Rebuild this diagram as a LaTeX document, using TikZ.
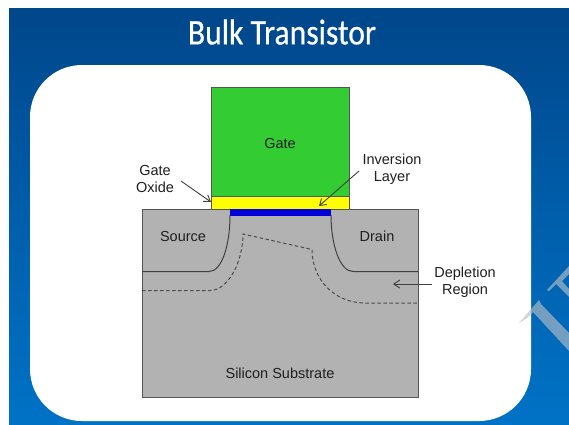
\documentclass[tikz,border=0pt]{standalone}
\usepackage{fontspec}
\usetikzlibrary{arrows.meta}
\setmainfont{Liberation Sans}
\newfontfamily\titlefont[FakeBold=0.6]{Carlito}
\definecolor{slidetop}{HTML}{00468A}
\definecolor{slidebottom}{HTML}{0072C6}
\definecolor{gategreen}{HTML}{33CC33}
\definecolor{oxideyellow}{HTML}{FFFF00}
\definecolor{channelblue}{HTML}{0000D8}
\definecolor{silicongray}{HTML}{B2B2B2}
\definecolor{inkgray}{HTML}{555555}
\definecolor{markgray}{HTML}{B4BCC4}
\tikzset{
  layer/.style={draw=inkgray, line width=1pt},
  lbl/.style={font=\fontsize{14.5}{17}\selectfont, text=black!88, align=center, inner sep=0pt},
  callout/.style={draw=black!75, line width=0.9pt, -{Straight Barb[length=6pt,width=8pt]}},
  well/.style={draw=black!75, line width=1pt},
  depletion/.style={draw=black!70, line width=1pt, dash pattern=on 3.5pt off 2.5pt}
}
\begin{document}
\begin{tikzpicture}[x=1pt,y=-1pt]
\useasboundingbox (0,0) rectangle (569,424);
\fill[white] (0,0) rectangle (569,424);
% slide
\shade[top color=slidetop, bottom color=slidebottom, middle color=slidetop!45!slidebottom] (9,8) rectangle (569,424);
\fill[white, rounded corners=52pt] (30,65) rectangle (531,421);
\fill[markgray, opacity=0.65] (519,323) -- (539,300) -- (541,304) -- (569,333) -- (569,351) -- (533,312) -- (527,318) -- cycle;
\fill[markgray, opacity=0.65] (547,290) -- (569,266) -- (569,274) -- (562,281) -- (569,289) -- (569,297) -- (556,284) -- (549,291) -- cycle;
\node[font=\fontsize{36}{40}\selectfont\titlefont, text=white, xscale=0.88] (title) at (282,32) {Bulk Transistor};
% device
\draw[layer, fill=silicongray] (142,209) rectangle (418,397);
\draw[layer, fill=gategreen] (211,87) rectangle (349,196);
\draw[layer, fill=oxideyellow] (211,196) rectangle (349,209);
\fill[channelblue] (230,209) rectangle (331,215.5);
\draw[well] (142,271.5) -- (209,271.5) .. controls (222,271.5) and (230,245) .. (230,215);
\draw[well] (418,271.5) -- (353,271.5) .. controls (340,271.5) and (331,245) .. (331,215);
\draw[depletion] (142,290.5) -- (210,290.5) .. controls (228,290.5) and (243,262) .. (243,234) -- (312,249.5) .. controls (312,280) and (335,303) .. (365,303) -- (418,303);
% labels
\node[lbl] (gate) at (280,144) {Gate};
\node[lbl] (oxide) at (155,179.5) {Gate\\Oxide};
\node[lbl] (inversion) at (392,169.5) {Inversion\\Layer};
\node[lbl] (source) at (183,236) {Source};
\node[lbl] (drain) at (377,236) {Drain};
\node[lbl] (deplete) at (465,282.5) {Depletion\\Region};
\node[lbl] (substrate) at (280,373) {Silicon Substrate};
% arrows
\coordinate (oxidetail) at (181,181);
\coordinate (oxidetip) at (211,202);
\coordinate (inversiontail) at (359,171);
\coordinate (inversiontip) at (319,206);
\coordinate (depletetail) at (432,284);
\coordinate (depletetip) at (393,284);
\draw[callout] (oxidetail) -- (oxidetip);
\draw[callout] (inversiontail) -- (inversiontip);
\draw[callout] (depletetail) -- (depletetip);
\end{tikzpicture}
\end{document}
